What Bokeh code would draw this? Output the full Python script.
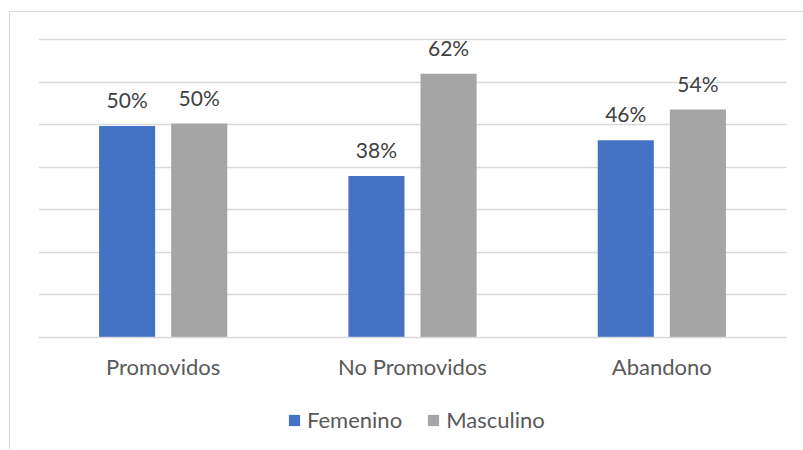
from bokeh.plotting import figure
from bokeh.layouts import column
from bokeh.models import (ColumnDataSource, FactorRange, Range1d, LabelSet,
                          Legend, LegendItem, SingleIntervalTicker)
from bokeh.transform import dodge
from bokeh.core.properties import value
from bokeh.embed import file_html
from bokeh.resources import INLINE

categories = ["Promovidos", "No Promovidos", "Abandono"]
femenino = [49.7, 38.0, 46.4]
masculino = [50.3, 62.0, 53.6]
series_names = ["Femenino", "Masculino"]
colors = ["#4472C4", "#A5A5A5"]

src = ColumnDataSource(data=dict(
    cat=categories,
    fem=femenino,
    mas=masculino,
    fem_lbl=[f"{round(v)}%" for v in femenino],
    mas_lbl=[f"{round(v)}%" for v in masculino],
))

FONT = "Lato"

p = figure(x_range=FactorRange(*categories, range_padding=0),
           y_range=Range1d(0, 70.3),
           width=793, height=383, output_backend="svg", toolbar_location=None,
           min_border_left=28, min_border_right=17, min_border_top=26,
           min_border_bottom=58)
p.outline_line_color = None
p.background_fill_color = "white"
p.border_fill_color = "white"

off = 0.1446
bw = 0.225
r1 = p.vbar(x=dodge("cat", -off, range=p.x_range), top="fem", width=bw,
            source=src, fill_color=colors[0], line_color=None)
r2 = p.vbar(x=dodge("cat", off, range=p.x_range), top="mas", width=bw,
            source=src, fill_color=colors[1], line_color=None)

for col, lbl, o in (("fem", "fem_lbl", -off), ("mas", "mas_lbl", off)):
    ls = LabelSet(x=dodge("cat", o, range=p.x_range), y=col, text=lbl, source=src,
                  text_align="center", text_baseline="alphabetic", y_offset=18,
                  text_font=value(FONT), text_font_size="21px", text_color="#404040")
    p.add_layout(ls)

# axes
p.yaxis.visible = False
p.yaxis.ticker = SingleIntervalTicker(interval=10)
p.ygrid.ticker = SingleIntervalTicker(interval=10)
p.ygrid.grid_line_color = "#D9D9D9"
p.ygrid.grid_line_width = 1.5
p.xgrid.grid_line_color = None
p.xaxis.axis_line_color = "#D9D9D9"
p.xaxis.axis_line_width = 1.5
p.xaxis.major_tick_line_color = None
p.xaxis.minor_tick_line_color = None
p.xaxis.major_tick_out = 0
p.xaxis.major_label_standoff = 15
p.xaxis.major_label_text_font = FONT
p.xaxis.major_label_text_font_size = "22px"
p.xaxis.major_label_text_color = "#595959"

# legend strip below the chart (its frame is aligned with the chart's frame)
lg = figure(width=793, height=54, output_backend="svg", toolbar_location=None,
            x_axis_type=None, y_axis_type=None, x_range=(0, 1), y_range=(0, 1),
            min_border=0, min_border_left=0, min_border_right=0,
            min_border_top=0, min_border_bottom=0)
lg.outline_line_color = None
lg.grid.visible = False
lr1 = lg.vbar(x=[-5], top=[-5], width=0.1, fill_color=colors[0], line_color=None)
lr2 = lg.vbar(x=[-5], top=[-5], width=0.1, fill_color=colors[1], line_color=None)
legend = Legend(items=[LegendItem(label=series_names[0], renderers=[lr1]),
                       LegendItem(label=series_names[1], renderers=[lr2])],
                location=(249, 16), orientation="horizontal",
                glyph_width=14, glyph_height=14, label_standoff=6, spacing=24,
                padding=0, margin=0, border_line_color=None,
                background_fill_alpha=0,
                label_text_font=FONT, label_text_font_size="22px",
                label_text_color="#595959")
lg.add_layout(legend, "center")

layout = column(p, lg, spacing=0)
layout.margin = (11, 0, 0, 9)
layout.styles = {"border-top": "1px solid #D9D9D9", "border-left": "1px solid #D9D9D9"}

open("out.html", "w").write(file_html(layout, INLINE))
